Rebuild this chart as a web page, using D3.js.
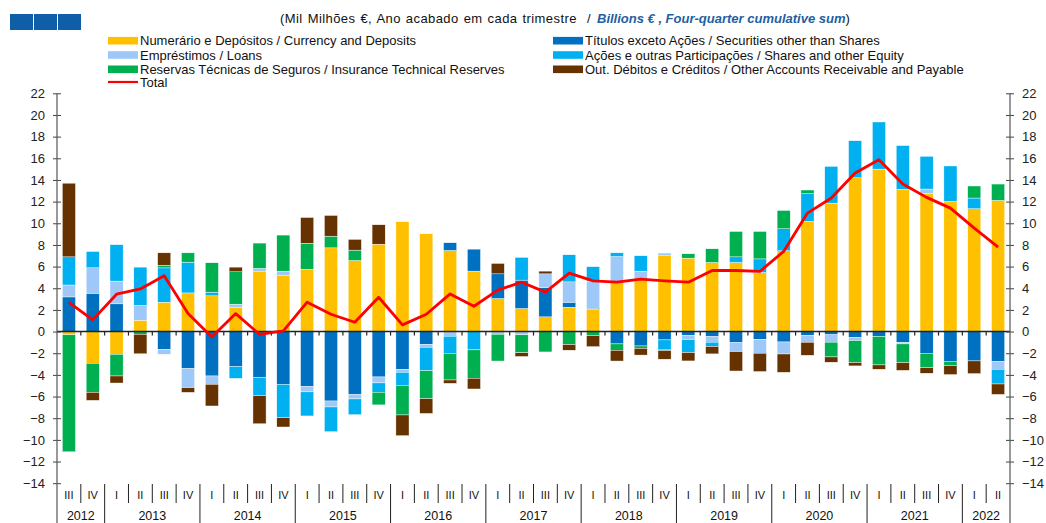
<!DOCTYPE html>
<html>
<head>
<meta charset="utf-8">
<script src="https://cdn.jsdelivr.net/npm/d3@7"></script>
<style>
  body { margin: 0; background: #fff; }
  svg { font-family: "Liberation Sans", Arial, sans-serif; }
</style>
</head>
<body>
<svg id="chart" width="1046" height="523"></svg>
<script>
// quarters 2012 III .. 2022 II
const years = ['2012', '2013', '2014', '2015', '2016', '2017', '2018', '2019', '2020', '2021', '2022'];
const quarterNames = ['I', 'II', 'III', 'IV'];
let quarters = [];
years.forEach(function (yr) {
    quarterNames.forEach(function (q) {
        if (yr === '2012' && (q === 'I' || q === 'II')) return;
        if (yr === '2022' && (q === 'III' || q === 'IV')) return;
        quarters.push({ year: yr, q: q, id: yr + ' ' + q });
    });
});

const currency = [-0.3, -2.93, -2.1, 1.05, 2.71, 3.57, 3.3, 2.22, 5.52, 5.21, 5.76, 7.73, 6.56, 8.07, 10.14, 9.03, 7.49, 5.58, 3.05, 2.13, 1.36, 2.25, 2.06, 4.53, 4.84, 7.0, 6.78, 6.38, 6.38, 5.45, 7.46, 10.17, 11.86, 14.2, 15.0, 13.13, 12.73, 12.02, 11.34, 12.11];
const securities = [3.2, 3.54, 2.56, 0, -1.63, -3.42, -4.1, -3.24, -4.22, -4.87, -5.08, -6.41, -5.82, -4.19, -3.48, -1.17, 0.71, 2.03, 2.28, 2.62, 2.71, 0.46, 0.1, -1.14, -1.33, -0.77, -0.37, -0.46, -1.02, -0.71, -0.96, -0.37, -0.3, -0.55, -0.46, -0.99, -2.0, -2.74, -2.71, -2.77];
const loans = [1.1, 2.35, 2.1, 1.36, -0.46, -1.76, -0.77, 0.31, 0.31, 0.37, -0.49, -0.55, -0.4, -0.55, -0.28, -0.28, -0.43, 0, -0.25, -0.3, 1.26, 1.88, 2.5, 2.4, 0.74, 0.25, -0.37, -0.52, -0.83, -1.29, -1.11, -0.62, -0.68, -0.28, 0, -0.15, 0.43, 0, 0, -0.71];
const shares = [2.6, 1.5, 3.36, 3.54, 3.17, 2.84, 0.34, -1.08, -1.7, -3.08, -2.22, -2.28, -1.45, -0.86, -1.2, -2.16, -1.57, -1.69, 0, 2.1, 0, 2.5, 1.33, 0.34, 1.42, -0.86, -1.2, -0.4, 0.52, 1.26, 2.03, 2.56, 3.39, 3.42, 4.35, 4.04, 3.02, 3.27, 0.99, -1.36];
const insurance = [-10.8, -2.68, -2.0, -0.25, 0.25, 0.86, 2.71, 2.99, 2.34, 3.33, 2.4, 1.08, 0.96, -1.17, -2.74, -2.59, -2.47, -2.62, -2.47, -1.66, -1.88, -1.2, -0.37, -0.59, -0.22, -0.12, 0.4, 1.26, 2.34, 2.53, 1.69, 0.34, -1.36, -2.03, -2.62, -1.73, -1.33, -0.4, 1.11, 1.51];
const other = [6.8, -0.74, -0.65, -1.8, 1.14, -0.43, -2.0, 0.43, -2.59, -0.86, 2.37, 1.91, 0.99, 1.79, -1.91, -1.36, -0.31, -0.99, 0.96, -0.34, 0.25, -0.52, -1.02, -0.99, -0.62, -0.8, -0.77, -0.68, -1.79, -1.69, -1.69, -1.2, -0.49, -0.31, -0.4, -0.71, -0.52, -0.83, -1.17, -0.96];
const total = [2.7, 1.08, 3.45, 3.94, 5.15, 1.66, -0.49, 1.66, -0.25, 0.06, 2.71, 1.6, 0.86, 3.17, 0.62, 1.6, 3.48, 2.34, 3.82, 4.56, 3.64, 5.39, 4.68, 4.56, 4.84, 4.68, 4.56, 5.64, 5.64, 5.55, 7.4, 10.94, 12.33, 14.64, 15.87, 13.62, 12.39, 11.4, 9.55, 7.8];

const series = [
    { key: 'currency', values: currency, color: '#FFC000', label: 'Numerário e Depósitos / Currency and Deposits' },
    { key: 'securities', values: securities, color: '#0070C0', label: 'Títulos exceto Ações / Securities other than Shares' },
    { key: 'loans', values: loans, color: '#9DC8F7', label: 'Empréstimos / Loans' },
    { key: 'shares', values: shares, color: '#00B0F0', label: 'Ações e outras Participações / Shares and other Equity' },
    { key: 'insurance', values: insurance, color: '#00B050', label: 'Reservas Técnicas de Seguros / Insurance Technical Reserves' },
    { key: 'other', values: other, color: '#663300', label: 'Out. Débitos e Créditos / Other Accounts Receivable and Payable' }
];
const yTicks = d3.range(-14, 23, 2);

const svg = d3.select('#chart');
const PLOT_LEFT = 57, PLOT_RIGHT = 1010, PLOT_TOP = 93.3, PLOT_BOTTOM = 483.2;

let x = d3.scaleBand()
    .domain(quarters.map(function (d) { return d.id; }))
    .range([PLOT_LEFT, PLOT_RIGHT])
    .paddingInner(0.45)
    .paddingOuter(0.225);

let y = d3.scaleLinear().domain([-14, 22]).range([PLOT_BOTTOM, PLOT_TOP]);

// table for stack
let rows = quarters.map(function (q, i) {
    let r = { id: q.id };
    series.forEach(function (s) { r[s.key] = s.values[i]; });
    return r;
});

let stack = d3.stack()
    .keys(series.map(function (s) { return s.key; }))
    .offset(d3.stackOffsetDiverging);
let stacked = stack(rows);

// header logo
[0, 1, 2].forEach(function (i) {
    svg.append('rect')
        .attr('x', 10 + i * 24)
        .attr('y', 14)
        .attr('width', 23)
        .attr('height', 16)
        .attr('fill', '#0F5EA8');
});

// title
let title = svg.append('text')
    .attr('y', 23)
    .attr('font-size', 13)
    .attr('fill', '#111');
title.append('tspan')
    .attr('x', 280)
    .attr('letter-spacing', 0.42)
    .attr('word-spacing', 1)
    .text('(Mil Milhões €, Ano acabado em cada trimestre');
title.append('tspan').attr('x', 587).text('/');
title.append('tspan')
    .attr('x', 597)
    .attr('fill', '#1F5FA0')
    .attr('font-style', 'italic')
    .attr('font-weight', 'bold')
    .text('Billions € , Four-quarter cumulative sum');
title.append('tspan').text(')');

// legend
let legendItems = [
    { s: series[0], col: 0, row: 0 },
    { s: series[2], col: 0, row: 1 },
    { s: series[4], col: 0, row: 2 },
    { s: series[1], col: 1, row: 0 },
    { s: series[3], col: 1, row: 1 },
    { s: series[5], col: 1, row: 2 }
];
let legend = svg.append('g').attr('font-size', 13).attr('fill', '#111');
legendItems.forEach(function (it) {
    let lx = it.col === 0 ? 108 : 553;
    let ly = 40.7 + it.row * 14.3;
    legend.append('rect')
        .attr('x', lx).attr('y', ly - 3.8)
        .attr('width', 30).attr('height', 7.6)
        .attr('fill', it.s.color);
    legend.append('text')
        .attr('x', lx + 32).attr('y', ly + 4.6)
        .text(it.s.label);
});
legend.append('line')
    .attr('x1', 108).attr('x2', 138)
    .attr('y1', 82).attr('y2', 82)
    .attr('stroke', '#FF0000').attr('stroke-width', 2.2);
legend.append('text').attr('x', 140).attr('y', 87).text('Total');

// bars
let layers = svg.append('g').selectAll('g')
    .data(stacked)
    .enter().append('g')
    .attr('fill', function (d, i) { return series[i].color; });

layers.selectAll('rect')
    .data(function (d) { return d; })
    .enter().append('rect')
    .attr('x', function (d) { return x(d.data.id); })
    .attr('width', x.bandwidth())
    .attr('y', function (d) { return y(Math.max(d[0], d[1])); })
    .attr('height', function (d) { return Math.abs(y(d[0]) - y(d[1])); })
    .attr('stroke', '#fff')
    .attr('stroke-width', 0.4);

// zero line with small ticks between quarters
svg.append('line')
    .attr('x1', PLOT_LEFT).attr('x2', PLOT_RIGHT)
    .attr('y1', y(0)).attr('y2', y(0))
    .attr('stroke', '#222').attr('stroke-width', 1.5);
quarters.forEach(function (q, i) {
    if (i === 0) return;
    let bx = x(q.id) - x.step() * x.paddingInner() / 2;
    svg.append('line')
        .attr('x1', bx).attr('x2', bx)
        .attr('y1', y(0)).attr('y2', y(0) + 4)
        .attr('stroke', '#222').attr('stroke-width', 1.2);
});

// total line
let line = d3.line()
    .x(function (d, i) { return x(quarters[i].id) + x.bandwidth() / 2; })
    .y(function (d) { return y(d); })
    .curve(d3.curveLinear);

svg.append('path')
    .attr('d', line(total))
    .attr('fill', 'none')
    .attr('stroke', '#FF0000')
    .attr('stroke-width', 2.8)
    .attr('stroke-linejoin', 'round');

// y axes, ticks cross the axis line
let axisL = svg.append('g')
    .attr('transform', 'translate(' + PLOT_LEFT + ',0)')
    .call(d3.axisLeft(y).tickValues(yTicks).tickSize(4).tickPadding(8));
let axisR = svg.append('g')
    .attr('transform', 'translate(' + PLOT_RIGHT + ',0)')
    .call(d3.axisRight(y).tickValues(yTicks).tickSize(4).tickPadding(8));
[axisL, axisR].forEach(function (ax) {
    ax.select('.domain').remove();
    ax.selectAll('.tick line').attr('x1', -4).attr('x2', 4).attr('stroke', '#444');
    ax.selectAll('.tick text')
        .attr('font-size', 13)
        .attr('font-family', '"Liberation Sans", Arial, sans-serif')
        .attr('fill', '#222');
    ax.append('line')
        .attr('x1', 0).attr('x2', 0)
        .attr('y1', PLOT_TOP).attr('y2', 523)
        .attr('stroke', '#555').attr('stroke-width', 1.2);
});

// category axis: quarters and years
let catG = svg.append('g');
quarters.forEach(function (q, i) {
    let cx = x(q.id) + x.bandwidth() / 2;
    catG.append('text')
        .attr('x', cx).attr('y', 499)
        .attr('text-anchor', 'middle')
        .attr('font-size', 11)
        .attr('fill', '#111')
        .text(q.q);
    if (i === 0) return;
    let bx = x(q.id) - x.step() * x.paddingInner() / 2;
    let isYear = q.q === 'I';
    catG.append('line')
        .attr('x1', bx).attr('x2', bx)
        .attr('y1', 484).attr('y2', isYear ? 523 : 503)
        .attr('stroke', '#222').attr('stroke-width', 1);
});
years.forEach(function (yr) {
    let qs = quarters.filter(function (q) { return q.year === yr; });
    let x0 = x(qs[0].id);
    let x1 = x(qs[qs.length - 1].id) + x.bandwidth();
    catG.append('text')
        .attr('x', (x0 + x1) / 2).attr('y', 520)
        .attr('text-anchor', 'middle')
        .attr('font-size', 12.5)
        .attr('fill', '#111')
        .text(yr);
});
</script>
</body>
</html>
